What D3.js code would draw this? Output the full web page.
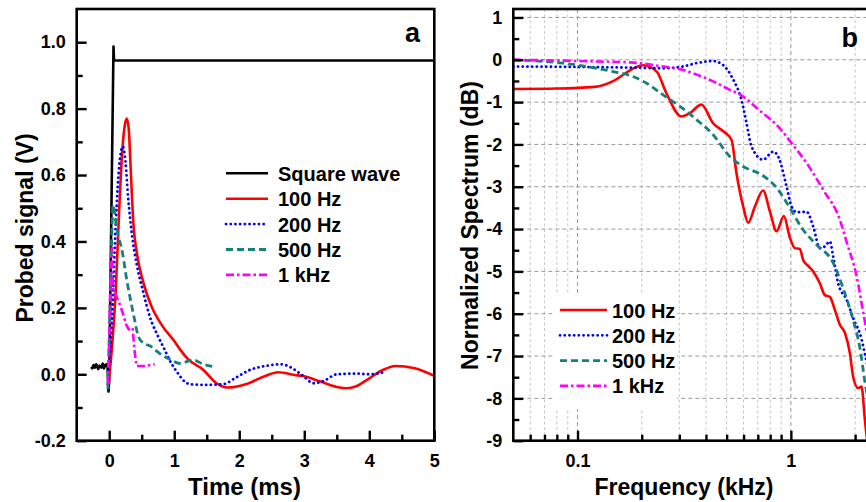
<!DOCTYPE html>
<html>
<head>
<meta charset="utf-8">
<script src="https://cdn.jsdelivr.net/npm/d3@7"></script>
<style>
  html, body { margin: 0; padding: 0; background: #fff; }
  svg { display: block; }
</style>
</head>
<body>
<svg id="chart" width="866" height="502"></svg>
<script>
// ---------------- DATA ----------------
// Panel a: time (ms) vs probed signal (V)
const squareT = [-0.28,-0.26,-0.24,-0.22,-0.2,-0.17,-0.15,-0.12,-0.1,-0.08,-0.06,-0.04,-0.025,-0.012,0.0,0.066,0.074,5.0];
const squareV = [0.022,0.018,0.028,0.02,0.03,0.016,0.026,0.02,0.032,0.018,0.028,0.03,0.022,-0.052,-0.02,0.987,0.945,0.945];

const hz100T = [-0.01,0.05,0.1,0.15,0.2,0.24,0.27,0.3,0.33,0.37,0.43,0.52,0.65,0.82,1.0,1.1,1.2,1.45,1.65,1.82,2.1,2.4,2.6,2.85,3.0,3.25,3.5,3.65,3.8,4.0,4.2,4.4,4.7,5.0];
const hz100V = [-0.03,0.1,0.25,0.48,0.67,0.75,0.77,0.74,0.62,0.46,0.36,0.28,0.205,0.145,0.1,0.072,0.048,0.013,-0.027,-0.04,-0.03,-0.005,0.006,-0.002,-0.006,-0.022,-0.038,-0.042,-0.036,-0.012,0.012,0.025,0.018,-0.005];

const hz200T = [-0.02,0.05,0.1,0.16,0.21,0.25,0.29,0.35,0.42,0.52,0.63,0.75,0.85,0.95,1.05,1.15,1.25,1.5,1.75,1.95,2.15,2.4,2.65,2.8,2.95,3.15,3.3,3.5,3.8,4.0,4.22];
const hz200V = [-0.03,0.2,0.45,0.64,0.686,0.64,0.535,0.42,0.334,0.25,0.17,0.115,0.075,0.035,0.005,-0.02,-0.03,-0.032,-0.03,-0.01,0.012,0.025,0.03,0.02,0.0,-0.027,-0.02,0.0,0.002,0.0,0.006];

const hz500T = [-0.02,0.02,0.06,0.1,0.14,0.19,0.27,0.37,0.45,0.52,0.63,0.78,0.93,1.09,1.29,1.45,1.6];
const hz500V = [-0.045,0.25,0.51,0.46,0.415,0.38,0.284,0.184,0.113,0.095,0.085,0.062,0.045,0.033,0.043,0.03,0.023];

const khz1T = [-0.02,0.0,0.02,0.04,0.06,0.1,0.14,0.2,0.26,0.3,0.36,0.39,0.42,0.55,0.7];
const khz1V = [-0.03,0.1,0.3,0.38,0.25,0.24,0.222,0.19,0.15,0.135,0.14,0.07,0.025,0.025,0.03];

const aXTicks = [0,1,2,3,4,5];
const aXMinor = [0.5,1.5,2.5,3.5,4.5];
const aYTicks = [-0.2,0,0.2,0.4,0.6,0.8,1.0];
const aYMinor = [-0.1,0.1,0.3,0.5,0.7,0.9];
const aLegend = ["Square wave","100 Hz","200 Hz","500 Hz","1 kHz"];

// Panel b: frequency (kHz) vs normalized spectrum (dB)
const sp100F = [0.05,0.08,0.12,0.15,0.176,0.203,0.235,0.261,0.307,0.336,0.381,0.432,0.482,0.527,0.556,0.598,0.631,0.678,0.741,0.797,0.857,0.927,0.989,1.044,1.102,1.142,1.205,1.272,1.367,1.443,1.523,1.607,1.697,1.791,1.89,1.958,2.067,2.144,2.222,2.3];
const sp100D = [-0.69,-0.68,-0.64,-0.48,-0.25,-0.13,-0.28,-0.79,-1.34,-1.26,-1.06,-1.5,-1.69,-1.89,-2.68,-3.47,-3.85,-3.47,-3.09,-3.58,-4.05,-3.69,-4.2,-4.45,-4.47,-4.73,-4.87,-5.0,-5.28,-5.56,-5.6,-5.91,-6.26,-6.45,-6.93,-7.49,-7.76,-7.72,-8.5,-9.2];

const sp200F = [0.05,0.1,0.2,0.25,0.31,0.36,0.43,0.48,0.537,0.587,0.62,0.654,0.741,0.826,0.88,0.955,1.008,1.063,1.185,1.272,1.367,1.443,1.523,1.579,1.665,1.824,1.958,2.144,2.222,2.35];
const sp200D = [-0.16,-0.17,-0.19,-0.2,-0.16,-0.08,-0.03,-0.12,-0.47,-0.95,-1.5,-2.05,-2.36,-2.17,-2.33,-3.0,-3.47,-3.6,-3.59,-3.94,-4.45,-4.41,-4.29,-4.65,-5.28,-5.67,-6.1,-6.6,-6.95,-7.5];

const sp500F = [0.05,0.0855,0.123,0.147,0.176,0.21,0.252,0.302,0.362,0.432,0.518,0.598,0.741,0.857,0.989,1.142,1.32,1.579,1.758,1.958,2.105,2.222,2.35];
const sp500D = [0.0,-0.08,-0.2,-0.28,-0.37,-0.55,-0.83,-1.1,-1.42,-1.77,-2.29,-2.52,-2.74,-3.02,-3.5,-4.02,-4.37,-4.8,-5.4,-6.15,-6.8,-7.6,-8.3];

const sp1kF = [0.05,0.0855,0.123,0.176,0.252,0.313,0.362,0.432,0.518,0.577,0.715,0.888,1.008,1.185,1.417,1.697,1.824,2.034,2.18,2.3];
const sp1kD = [0.0,-0.02,-0.04,-0.06,-0.16,-0.24,-0.35,-0.51,-0.71,-0.82,-1.2,-1.62,-1.97,-2.44,-3.07,-3.78,-4.3,-5.12,-5.95,-6.6];

const bXTicks = [0.1,1];
const bXMinor = [0.06,0.07,0.08,0.09,0.2,0.3,0.4,0.5,0.6,0.7,0.8,0.9,2,3,4];
const bYTicks = [-9,-8,-7,-6,-5,-4,-3,-2,-1,0,1];
const bYMinor = [-8.5,-7.5,-6.5,-5.5,-4.5,-3.5,-2.5,-1.5,-0.5,0.5];
const bLegend = ["100 Hz","200 Hz","500 Hz","1 kHz"];

// ---------------- STYLE ----------------
const FONT = "'Liberation Sans', Arial, Helvetica, sans-serif";
const TICKFS = 18;
const styles = {
  square: {color:"#000000", dash:null, cap:"butt", w:2.6},
  s100:   {color:"#ff0000", dash:null, cap:"butt", w:2.6},
  s200:   {color:"#0000ff", dash:"0.1,4.6", cap:"round", w:2.8},
  s500:   {color:"#17807a", dash:"7,4", cap:"butt", w:2.8},
  s1k:    {color:"#ff00ff", dash:"8,3,2.5,3", cap:"butt", w:2.6}
};

const svg = d3.select("#chart");
svg.append("rect").attr("width",866).attr("height",502).attr("fill","#fff");
const defs = svg.append("defs");

function zip(a,b){ return a.map((v,i)=>[v,b[i]]); }

function styleAxis(g, size){
  g.select(".domain").remove();
  g.selectAll(".tick line").attr("stroke","#000").attr("stroke-width",2.4);
  g.selectAll(".tick text").attr("font-family",FONT).attr("font-weight","bold")
    .attr("font-size",size).attr("fill","#000");
}

// ================= PANEL A =================
const A = {l:76.7, r:434.3, t:9, b:440.7};
const xA = d3.scaleLinear().domain([-0.5,5]).range([A.l,A.r]);
const yA = d3.scaleLinear().domain([-0.2,1.1]).range([A.b,A.t]);

defs.append("clipPath").attr("id","clipA").append("rect")
  .attr("x",A.l).attr("y",A.t).attr("width",A.r-A.l).attr("height",A.b-A.t);

const gA = svg.append("g");
const linesA = gA.append("g").attr("clip-path","url(#clipA)");

const lineLin = d3.line().x(d=>xA(d[0])).y(d=>yA(d[1]));
const lineSm = d3.line().x(d=>xA(d[0])).y(d=>yA(d[1])).curve(d3.curveMonotoneX);

const seriesA = [
  {data:zip(squareT,squareV), st:styles.square, gen:lineLin},
  {data:zip(hz100T,hz100V), st:styles.s100, gen:lineSm},
  {data:zip(hz200T,hz200V), st:styles.s200, gen:lineSm},
  {data:zip(hz500T,hz500V), st:styles.s500, gen:lineSm},
  {data:zip(khz1T,khz1V), st:styles.s1k, gen:lineLin}
];
seriesA.forEach(s=>{
  linesA.append("path").attr("d",s.gen(s.data)).attr("fill","none")
    .attr("stroke",s.st.color).attr("stroke-width",s.st.w)
    .attr("stroke-dasharray",s.st.dash).attr("stroke-linecap",s.st.cap)
    .attr("stroke-linejoin","round");
});

// axes A
const axA_x = gA.append("g").attr("transform",`translate(0,${A.b})`)
  .call(d3.axisBottom(xA).tickValues(aXTicks).tickSize(-10).tickPadding(14).tickFormat(d=>String(d)));
styleAxis(axA_x,TICKFS);
const axA_xm = gA.append("g").attr("transform",`translate(0,${A.b})`)
  .call(d3.axisBottom(xA).tickValues(aXMinor).tickSize(-6).tickFormat(""));
styleAxis(axA_xm,TICKFS);
const axA_y = gA.append("g").attr("transform",`translate(${A.l},0)`)
  .call(d3.axisLeft(yA).tickValues(aYTicks).tickSize(-10).tickPadding(11).tickFormat(d=>d.toFixed(1)));
styleAxis(axA_y,TICKFS);
const axA_ym = gA.append("g").attr("transform",`translate(${A.l},0)`)
  .call(d3.axisLeft(yA).tickValues(aYMinor).tickSize(-6).tickFormat(""));
styleAxis(axA_ym,TICKFS);

gA.append("rect").attr("x",A.l).attr("y",A.t).attr("width",A.r-A.l).attr("height",A.b-A.t)
  .attr("fill","none").attr("stroke","#000").attr("stroke-width",2.6);

gA.append("text").attr("x",420).attr("y",42).attr("text-anchor","end")
  .attr("font-family",FONT).attr("font-weight","bold").attr("font-size",27).text("a");

gA.append("text").attr("x",244.5).attr("y",495).attr("text-anchor","middle")
  .attr("font-family",FONT).attr("font-weight","bold").attr("font-size",24).text("Time (ms)");
gA.append("text").attr("transform","translate(33,228) rotate(-90)").attr("text-anchor","middle")
  .attr("font-family",FONT).attr("font-weight","bold").attr("font-size",23).text("Probed signal (V)");

// legend A
const legAst = [styles.square, styles.s100, styles.s200, styles.s500, styles.s1k];
const legA = gA.append("g");
aLegend.forEach((name,i)=>{
  const y = 173.3 + i*25.4;
  const st = legAst[i];
  legA.append("line").attr("x1",226).attr("x2",268).attr("y1",y).attr("y2",y)
    .attr("stroke",st.color).attr("stroke-width",st.w).attr("stroke-dasharray",st.dash)
    .attr("stroke-linecap",st.cap);
  legA.append("text").attr("x",278).attr("y",y+7.5)
    .attr("font-family",FONT).attr("font-weight","bold").attr("font-size",20).text(name);
});

// ================= PANEL B =================
const B = {l:513.3, r:940, t:9, b:440.7};
const xB = d3.scaleLog().domain([0.05,5]).range([B.l,B.r]);
const yB = d3.scaleLinear().domain([-9,1.2]).range([B.b,B.t]);

defs.append("clipPath").attr("id","clipB").append("rect")
  .attr("x",B.l).attr("y",B.t).attr("width",B.r-B.l).attr("height",B.b-B.t);

const gB = svg.append("g");
// grid
const grid = gB.append("g");
bXMinor.forEach(f=>{
  grid.append("line").attr("x1",xB(f)).attr("x2",xB(f)).attr("y1",B.t).attr("y2",B.b)
    .attr("stroke","#c8c8c8").attr("stroke-width",1).attr("stroke-dasharray","3,2.5");
});
bXTicks.forEach(f=>{
  grid.append("line").attr("x1",xB(f)).attr("x2",xB(f)).attr("y1",B.t).attr("y2",B.b)
    .attr("stroke","#9a9a9a").attr("stroke-width",1).attr("stroke-dasharray","4,3");
});
bYTicks.filter(v=>v>-9).forEach(v=>{
  grid.append("line").attr("x1",B.l).attr("x2",B.r).attr("y1",yB(v)).attr("y2",yB(v))
    .attr("stroke","#9a9a9a").attr("stroke-width",1).attr("stroke-dasharray","4,3");
});

const linesB = gB.append("g").attr("clip-path","url(#clipB)");
const lineB = d3.line().x(d=>xB(d[0])).y(d=>yB(d[1])).curve(d3.curveMonotoneX);
const seriesB = [
  {data:zip(sp100F,sp100D), st:styles.s100},
  {data:zip(sp200F,sp200D), st:styles.s200},
  {data:zip(sp500F,sp500D), st:styles.s500},
  {data:zip(sp1kF,sp1kD), st:styles.s1k}
];
seriesB.forEach(s=>{
  linesB.append("path").attr("d",lineB(s.data)).attr("fill","none")
    .attr("stroke",s.st.color).attr("stroke-width",s.st.w)
    .attr("stroke-dasharray",s.st.dash).attr("stroke-linecap",s.st.cap)
    .attr("stroke-linejoin","round");
});

// legend B (white box)
const legB = gB.append("g");
legB.append("rect").attr("x",553).attr("y",294).attr("width",124).attr("height",115).attr("fill","#fff");
const legBst = [styles.s100, styles.s200, styles.s500, styles.s1k];
bLegend.forEach((name,i)=>{
  const y = 310 + i*25.3;
  const st = legBst[i];
  legB.append("line").attr("x1",560).attr("x2",607).attr("y1",y).attr("y2",y)
    .attr("stroke",st.color).attr("stroke-width",st.w).attr("stroke-dasharray",st.dash)
    .attr("stroke-linecap",st.cap);
  legB.append("text").attr("x",612).attr("y",y+7.5)
    .attr("font-family",FONT).attr("font-weight","bold").attr("font-size",20).text(name);
});

// axes B
const axB_x = gB.append("g").attr("transform",`translate(0,${B.b})`)
  .call(d3.axisBottom(xB).tickValues(bXTicks).tickSize(-10).tickPadding(14).tickFormat(d=>String(d)));
styleAxis(axB_x,TICKFS);
const axB_xm = gB.append("g").attr("transform",`translate(0,${B.b})`)
  .call(d3.axisBottom(xB).tickValues(bXMinor).tickSize(-6).tickFormat(""));
styleAxis(axB_xm,TICKFS);
const axB_y = gB.append("g").attr("transform",`translate(${B.l},0)`)
  .call(d3.axisLeft(yB).tickValues(bYTicks).tickSize(-10).tickPadding(11).tickFormat(d=>String(d)));
styleAxis(axB_y,TICKFS);
const axB_ym = gB.append("g").attr("transform",`translate(${B.l},0)`)
  .call(d3.axisLeft(yB).tickValues(bYMinor).tickSize(-6).tickFormat(""));
styleAxis(axB_ym,TICKFS);

gB.append("rect").attr("x",B.l).attr("y",B.t).attr("width",B.r-B.l).attr("height",B.b-B.t)
  .attr("fill","none").attr("stroke","#000").attr("stroke-width",2.6);

gB.append("text").attr("x",858).attr("y",47).attr("text-anchor","end")
  .attr("font-family",FONT).attr("font-weight","bold").attr("font-size",27).text("b");

gB.append("text").attr("x",684).attr("y",495).attr("text-anchor","middle")
  .attr("font-family",FONT).attr("font-weight","bold").attr("font-size",23).text("Frequency (kHz)");
gB.append("text").attr("transform","translate(478,225.5) rotate(-90)").attr("text-anchor","middle")
  .attr("font-family",FONT).attr("font-weight","bold").attr("font-size",23).text("Normalized Spectrum (dB)");
</script>
</body>
</html>
